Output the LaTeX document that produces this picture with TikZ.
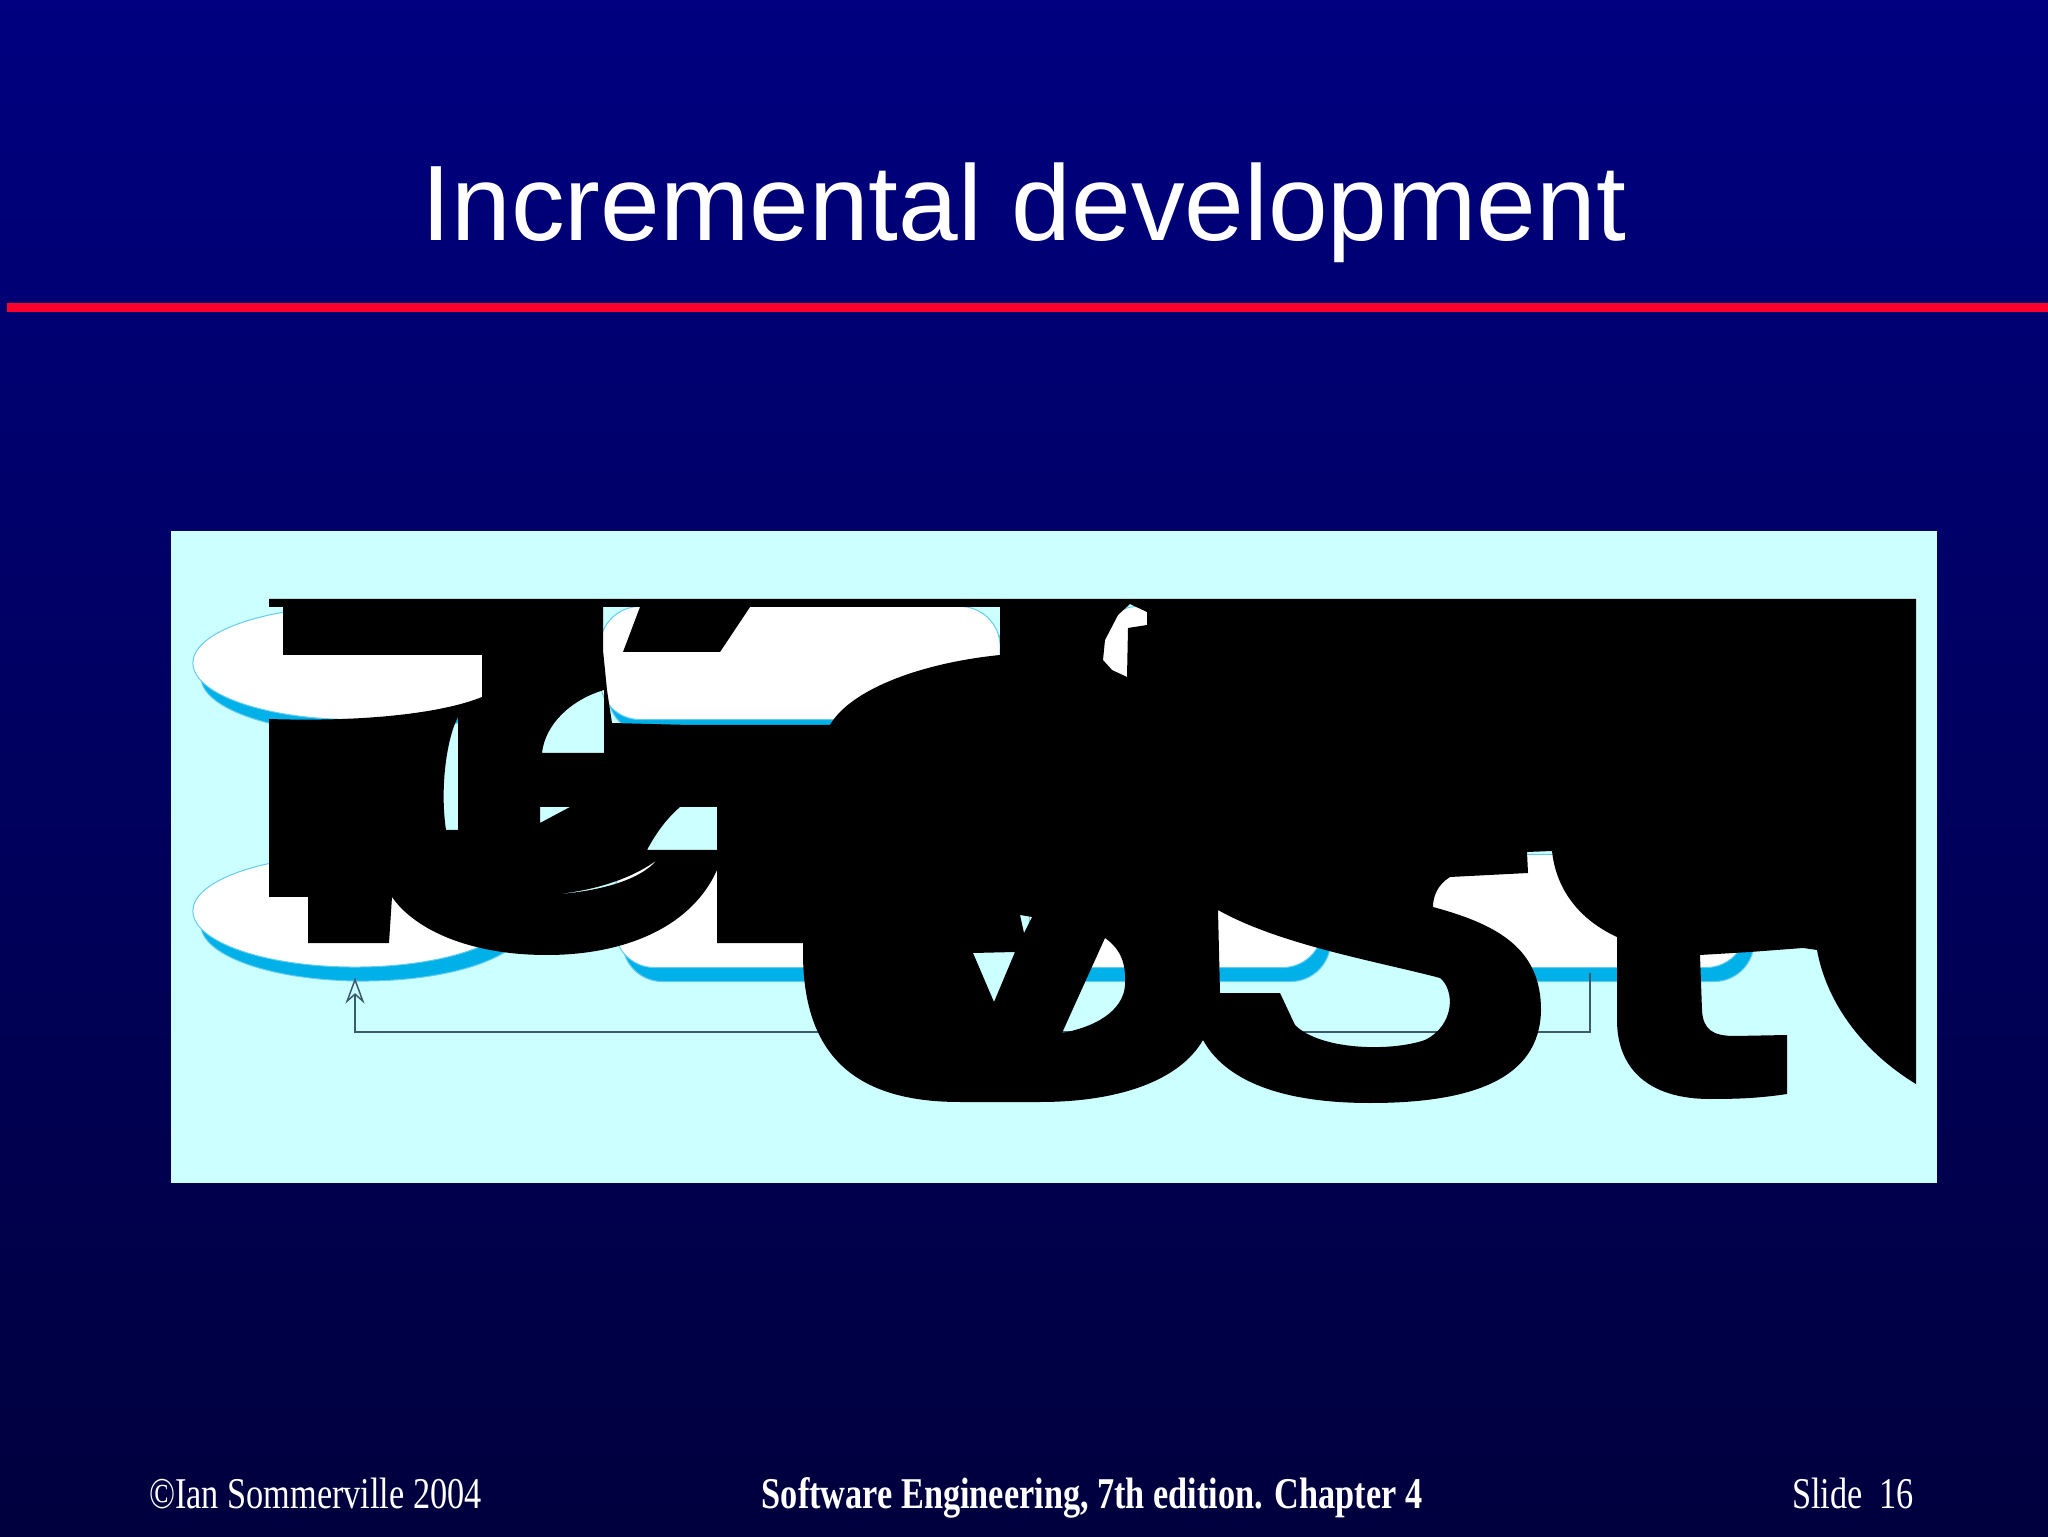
\documentclass[tikz,border=0pt]{standalone}
\usepackage{fontspec}
\setmainfont{Liberation Serif}
\newfontfamily\titlefont{Liberation Sans}
\usetikzlibrary{shapes.geometric, shadows, arrows.meta}

\definecolor{slidetop}{RGB}{0,0,128}
\definecolor{slidebottom}{RGB}{0,0,62}
\definecolor{rulered}{RGB}{255,0,45}
\definecolor{panelcyan}{RGB}{204,255,255}
\definecolor{stepedge}{RGB}{102,204,238}
\definecolor{stepshadow}{RGB}{0,176,232}
\definecolor{loopline}{RGB}{60,90,106}

\begin{document}
\begin{tikzpicture}[
		x = 0.01cm, y = -0.01cm, % one unit per pixel, y runs down
		> = {Stealth[open, length=2.6mm, width=1.9mm]}, % open arrow head
		semithick % line style
		]
		
		\tikzset{
		stepshape/.style = {
			fill = white,
			draw = stepedge,
			line width = 0.1mm,
			inner sep = 0pt,
			minimum height = 1.13cm,
			drop shadow = {shadow xshift=0.8mm, shadow yshift=-1.4mm,
				fill=stepshadow, draw=stepedge, opacity=1}
			},
		stepoval/.style = {stepshape, ellipse},
		stepbox/.style = {stepshape, rectangle, rounded corners=4mm},
		feedback/.style = {draw=loopline, line width=0.15mm},
		glyphs/.style = {fill=black},
		footer/.style = {text=white, inner sep=0pt, font=\fontsize{12.5}{15}\selectfont}
		}
		
		% slide
		\fill[top color=slidetop, bottom color=slidebottom] (0,0) rectangle (2048,1537);
		\useasboundingbox (0,0) rectangle (2048,1537);
		\node[anchor=base, text=white, inner sep=0pt,
			font=\titlefont\fontsize{30.5}{36}\selectfont] (title) at (1024,241) {Incremental development};
		\fill[rulered] (7,303) rectangle (2048,312);
		\fill[panelcyan] (171,531) rectangle (1937,1183);
		
		% process steps
		\node[stepoval, minimum width=3.24cm] (outline) at (355,663) {};
		\node[stepbox, minimum width=4.00cm] (assign) at (800,663) {};
		\node[stepbox, minimum width=4.02cm] (arch) at (1299,663) {};
		\node[stepoval, minimum width=3.24cm, minimum height=1.12cm] (develop) at (355,911) {};
		\node[stepbox, minimum width=3.47cm] (valinc) at (788,911) {};
		\node[stepbox, minimum width=2.93cm] (integ) at (1176,911) {};
		\node[stepbox, minimum width=3.36cm] (valsys) at (1578,911) {};
		
		% loop back
		\coordinate (loopturn) at (1590,1032);
		\coordinate (devport) at ([yshift=-1.0mm]develop.south);
		\draw[feedback, ->] ([yshift=-0.5mm]valsys.south -| loopturn) -- (loopturn) -| (devport);
		
		% oversized black lettering on top
		\fill[glyphs, even odd rule]
			(269,599) -- (1916,599) -- (1916,1084)
			.. controls (1860,1050) and (1826,1000) .. (1817,950)
			-- (1803,948) -- (1750,952) -- (1700,955) -- (1702,1010)
			.. controls (1703,1030) and (1713,1036) .. (1735,1036) -- (1787,1035) -- (1787,1094)
			.. controls (1760,1098) and (1740,1099) .. (1710,1099)
			.. controls (1650,1099) and (1617,1070) .. (1617,1020) -- (1617,937)
			.. controls (1580,920) and (1556,890) .. (1552,851)
			-- (1527,852) -- (1528,873) -- (1450,877)
			.. controls (1437,885) and (1433,897) .. (1433,907)
			.. controls (1500,925) and (1541,950) .. (1541,1010)
			.. controls (1540,1080) and (1470,1103) .. (1370,1103)
			.. controls (1280,1103) and (1225,1080) .. (1203,1040)
			.. controls (1180,1080) and (1120,1102) .. (1040,1102) -- (960,1102)
			.. controls (860,1102) and (803,1060) .. (803,953)
			-- (803,943) -- (717,943) -- (717,870)
			.. controls (690,930) and (620,955) .. (547,955)
			.. controls (470,955) and (415,930) .. (392,897)
			-- (389,943) -- (308,943) -- (308,897) -- (269,897) -- (269,719)
			.. controls (360,722) and (440,714) .. (482,697)
			-- (482,655) -- (283,655) -- (283,607) -- (269,607) -- cycle
			% openings
			(603,607) -- (1000,607) -- (1000,655)
			.. controls (920,663) and (850,690) .. (830,725)
			-- (690,725) -- (612,723) -- (607,690) -- (603,650) -- cycle
			(604,690) .. controls (570,700) and (545,725) .. (542,753) -- (604,753) -- cycle
			(458,717) .. controls (446,740) and (440,790) .. (446,830) -- (458,830) -- cycle
			(540,807) -- (570,807) -- (540,823) -- cycle
			(547,895) .. controls (600,892) and (640,880) .. (657,860)
			.. controls (630,880) and (590,892) .. (547,895) -- cycle
			(680,807) -- (717,807) -- (717,850) -- (647,850) .. controls (655,835) and (665,820) .. (680,807) -- cycle
			(1105,640) -- (1118,615) -- (1130,604) -- (1147,612) -- (1147,625) -- (1128,628)
			-- (1127,677) -- (1112,670) -- (1103,660) -- cycle
			(973,953) -- (1015,952) -- (994,1002) -- cycle
			(1020,915) -- (1032,917) -- (1024,933) -- cycle
			(1105,938) .. controls (1122,950) and (1126,965) .. (1125,985)
			.. controls (1124,1005) and (1105,1025) .. (1062,1033) -- cycle
			(1218,910) .. controls (1280,945) and (1380,962) .. (1440,978)
			.. controls (1455,990) and (1455,1025) .. (1425,1040)
			.. controls (1390,1052) and (1320,1050) .. (1295,1025)
			-- (1280,993) -- (1220,993) -- cycle;
		\fill[glyphs] (640,607) -- (750,607) -- (720,652) -- (623,652) -- cycle;
		
		% footer
		\node[footer, anchor=base west] (copyright) at (148,1508) {\scalebox{0.78}[1]{©Ian Sommerville 2004}};
		\node[footer, anchor=base] (book) at (1092,1508) {\scalebox{0.78}[1]{\bfseries Software Engineering, 7th edition. Chapter 4}};
		\node[footer, anchor=base east] (slideno) at (1915,1508) {\scalebox{0.78}[1]{Slide~~16}};
\end{tikzpicture}
\end{document}
